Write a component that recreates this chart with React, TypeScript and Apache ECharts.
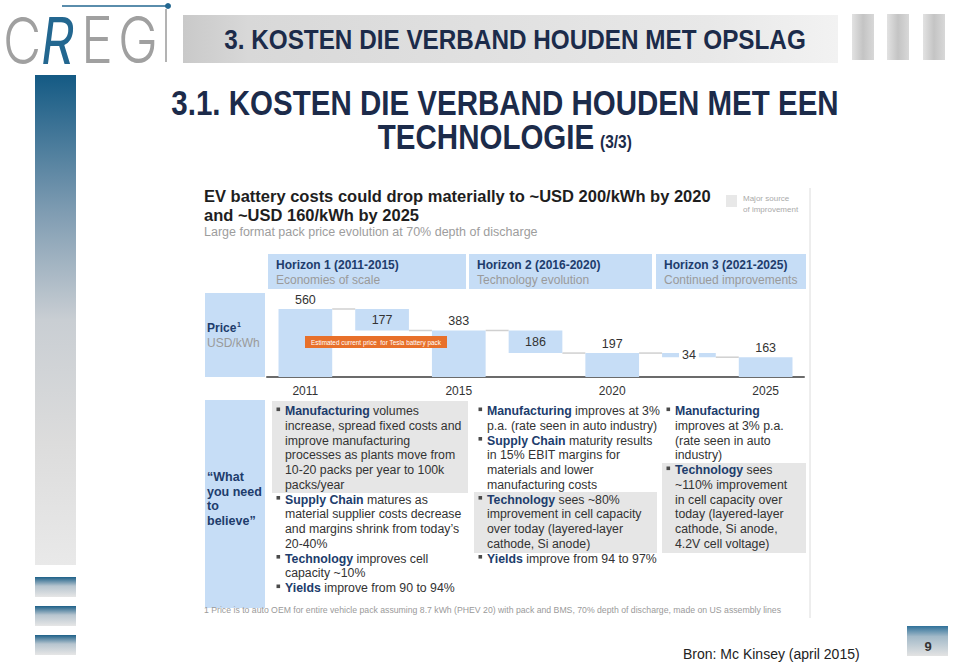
import React, { useEffect, useRef } from "react";
import * as echarts from "echarts";

const FF = '"Liberation Sans", Arial, Helvetica, sans-serif';

// Waterfall data (USD/kWh)
const categories = ["2011", "H1", "2015", "H2", "2020", "H3", "2025"];
const baseValues = [0, 383, 0, 197, 0, 163, 0];
const stepValues = [560, 177, 383, 186, 197, 34, 163];
const isTotal = [true, false, true, false, true, false, true];

const horizonTitles = ["Horizon 1 (2011-2015)", "Horizon 2 (2016-2020)", "Horizon 3 (2021-2025)"];
const horizonSubs = ["Economies of scale", "Technology evolution", "Continued improvements"];

const col1Lines = [
  "{k|Manufacturing} volumes",
  "increase, spread fixed costs and",
  "improve manufacturing",
  "processes as plants move from",
  "10-20 packs per year to 100k",
  "packs/year",
  "{k|Supply Chain} matures as",
  "material supplier costs decrease",
  "and margins shrink from today\u2019s",
  "20-40%",
  "{k|Technology} improves cell",
  "capacity ~10%",
  "{k|Yields} improve from 90 to 94%",
];
const col1Bullets = [0, 6, 10, 12];
const col2Lines = [
  "{k|Manufacturing} improves at 3%",
  "p.a. (rate seen in auto industry)",
  "{k|Supply Chain} maturity results",
  "in 15% EBIT margins for",
  "materials and lower",
  "manufacturing costs",
  "{k|Technology} sees ~80%",
  "improvement in cell capacity",
  "over today (layered-layer",
  "cathode, Si anode)",
  "{k|Yields} improve from 94 to 97%",
];
const col2Bullets = [0, 2, 6, 10];
const col3Lines = [
  "{k|Manufacturing}",
  "improves at 3% p.a.",
  "(rate seen in auto",
  "industry)",
  "{k|Technology} sees",
  "~110% improvement",
  "in cell capacity over",
  "today (layered-layer",
  "cathode, Si anode,",
  "4.2V cell voltage)",
];
const col3Bullets = [0, 4];

const NAVY = "#1c2b4a";
const KEY = "#203c6c";
const BLUE = "#c6ddf6";
const GRAYBOX = "#e6e6e6";

function txt(x: number, y: number, text: string, style: any, extra: any = {}) {
  return {
    type: "text",
    x,
    y,
    ...extra,
    style: {
      text,
      fontFamily: FF,
      align: "left",
      verticalAlign: "middle",
      textAlign: "left",
      textVerticalAlign: "middle",
      ...style,
    },
  };
}

function vgrad(stops: [number, string][]) {
  return { type: "linear", x: 0, y: 0, x2: 0, y2: 1, colorStops: stops.map(([offset, color]) => ({ offset, color })) };
}
function hgrad(stops: [number, string][]) {
  return { type: "linear", x: 0, y: 0, x2: 1, y2: 0, colorStops: stops.map(([offset, color]) => ({ offset, color })) };
}

const LH = 14.75;
const FIRST = 411;

function column(x: number, lines: string[], bullets: number[]) {
  const els: any[] = [];
  els.push({
    type: "text",
    x: x + 8,
    y: FIRST - LH / 2,
    style: {
      text: lines.join("\n"),
      fontFamily: FF,
      fontSize: 12.3,
      fill: "#333",
      lineHeight: LH,
      align: "left",
      verticalAlign: "top",
      textAlign: "left",
      textVerticalAlign: "top",
      rich: {
        k: { fontFamily: FF, fontSize: 12.3, fontWeight: "bold", fill: KEY, color: KEY, lineHeight: LH },
      },
    },
  });
  bullets.forEach((b) => {
    els.push({ type: "rect", shape: { x: x - 0.5, y: FIRST + b * LH - 3.5, width: 3.6, height: 3.6 }, style: { fill: "#4a4a4a" } });
  });
  return els;
}

function buildGraphic() {
  const els: any[] = [];
  // left decorative bars
  els.push({ type: "rect", shape: { x: 35, y: 75, width: 41, height: 490 }, style: { fill: vgrad([[0, "#145a84"], [0.28, "#7f9cb2"], [0.5, "#c9ced3"], [0.75, "#dcdcdc"], [1, "#e9e9e9"]]) } });
  [577, 606, 635].forEach((y) => {
    els.push({ type: "rect", shape: { x: 35, y, width: 41, height: 20 }, style: { fill: vgrad([[0, "#1d6088"], [0.45, "#b7c5cf"], [1, "#e6e6e6"]]) } });
  });
  // logo
  const LOGO = "Inter, " + FF;
  els.push(txt(3, 40, "C", { fontFamily: LOGO, fontWeight: 300, fontSize: 64, fill: "#a0a0a0" }, { scaleX: 0.82 }));
  els.push(txt(41, 41, "R", { fontFamily: LOGO, fontWeight: 400, fontStyle: "italic", fontSize: 64, fill: "#236790" }, { scaleX: 0.8 }));
  els.push(txt(81, 40, "E", { fontFamily: LOGO, fontWeight: 300, fontSize: 64, fill: "#a0a0a0" }, { scaleX: 0.84 }));
  els.push(txt(118, 40, "G", { fontFamily: LOGO, fontWeight: 300, fontSize: 64, fill: "#a0a0a0" }, { scaleX: 0.84 }));
  els.push({ type: "line", shape: { x1: 166, y1: 9, x2: 166, y2: 62 }, style: { stroke: "#9a9a9a", lineWidth: 1.5 } });
  els.push({ type: "line", shape: { x1: 62, y1: 6, x2: 167, y2: 6 }, style: { stroke: "#236790", lineWidth: 1.5 } });
  els.push({ type: "circle", shape: { cx: 168, cy: 6, r: 3 }, style: { fill: "#236790" } });
  // header band
  els.push({ type: "rect", shape: { x: 183, y: 15, width: 655, height: 48 }, style: { fill: hgrad([[0, "#c9c9c9"], [0.1, "#d8d8d8"], [0.8, "#e8e8e8"], [1, "#f2f2f2"]]) } });
  [852, 887, 923].forEach((x) => {
    els.push({ type: "rect", shape: { x, y: 14, width: 22, height: 46 }, style: { fill: hgrad([[0, "#e2e2e2"], [0.5, "#c4c4c4"], [1, "#d8d8d8"]]) } });
  });
  els.push(txt(515, 40, "3. KOSTEN DIE VERBAND HOUDEN MET OPSLAG", { fontSize: 27, fontWeight: "bold", fill: NAVY, align: "center", textAlign: "center" }, { scaleX: 0.9 }));
  // slide title
  els.push(txt(505, 102, "3.1. KOSTEN DIE VERBAND HOUDEN MET EEN", { fontSize: 36, fontWeight: "bold", fill: NAVY, align: "center", textAlign: "center" }, { scaleX: 0.82 }));
  els.push(txt(486, 136, "TECHNOLOGIE", { fontSize: 36, fontWeight: "bold", fill: NAVY, align: "center", textAlign: "center" }, { scaleX: 0.82 }));
  els.push(txt(600, 142, "(3/3)", { fontSize: 18, fontWeight: "bold", fill: NAVY }, { scaleX: 0.86 }));

  // McKinsey exhibit
  els.push({ type: "line", shape: { x1: 810, y1: 188, x2: 810, y2: 618 }, style: { stroke: "#dcdcdc", lineWidth: 1 } });
  els.push(txt(204, 196, "EV battery costs could drop materially to ~USD 200/kWh by 2020", { fontSize: 16.5, fontWeight: "bold", fill: "#1e1e1e" }));
  els.push(txt(204, 215, "and ~USD 160/kWh by 2025", { fontSize: 16.5, fontWeight: "bold", fill: "#1e1e1e" }));
  els.push(txt(204, 232, "Large format pack price evolution at 70% depth of discharge", { fontSize: 12.5, fill: "#9d9d9d" }));
  els.push({ type: "rect", shape: { x: 726, y: 195, width: 11, height: 12 }, style: { fill: "#e8e8e8" } });
  els.push(txt(743, 198, "Major source", { fontSize: 8, fill: "#aaaaaa" }));
  els.push(txt(743, 209, "of improvement", { fontSize: 8, fill: "#aaaaaa" }));

  // horizons
  const hx = [268, 469, 656];
  const hw = [198, 183, 150];
  hx.forEach((x, i) => {
    els.push({ type: "rect", shape: { x, y: 254, width: hw[i], height: 35 }, style: { fill: BLUE } });
    els.push(txt(x + 8, 265, horizonTitles[i], { fontSize: 12, fontWeight: "bold", fill: KEY }));
    els.push(txt(x + 8, 280, horizonSubs[i], { fontSize: 12, fill: "#9a9a9a" }));
  });

  // row labels
  els.push({ type: "rect", shape: { x: 205, y: 293, width: 60, height: 84 }, style: { fill: BLUE } });
  els.push(txt(207, 328, "Price", { fontSize: 12, fontWeight: "bold", fill: KEY }));
  els.push(txt(237, 324, "1", { fontSize: 7, fontWeight: "bold", fill: KEY }));
  els.push(txt(207, 343, "USD/kWh", { fontSize: 12, fill: "#9a9a9a" }));
  els.push({ type: "rect", shape: { x: 205, y: 400, width: 60, height: 208 }, style: { fill: BLUE } });
  ["\u201CWhat", "you need", "to", "believe\u201D"].forEach((s, i) => {
    els.push(txt(207, 477 + i * 14.7, s, { fontSize: 12.5, fontWeight: "bold", fill: KEY }));
  });

  // highlighted "major source" boxes
  els.push({ type: "rect", shape: { x: 272, y: 401, width: 196, height: 92 }, style: { fill: GRAYBOX } });
  els.push({ type: "rect", shape: { x: 474, y: 492, width: 183, height: 61 }, style: { fill: GRAYBOX } });
  els.push({ type: "rect", shape: { x: 662, y: 463, width: 144, height: 90 }, style: { fill: GRAYBOX } });

  els.push(...column(277, col1Lines, col1Bullets));
  els.push(...column(479, col2Lines, col2Bullets));
  els.push(...column(667, col3Lines, col3Bullets));

  // Tesla annotation
  els.push({ type: "rect", z: 10, shape: { x: 305, y: 336, width: 142, height: 12 }, style: { fill: "#e8702a" } });
  els.push(txt(376, 342, "Estimated current price  for Tesla battery pack", { fontSize: 6.4, fill: "#ffffff", align: "center", textAlign: "center" }, { z: 11 }));

  // footnote and source
  els.push(txt(204, 610, "1 Price is to auto OEM for entire vehicle pack assuming 8.7 kWh (PHEV 20) with pack and BMS, 70% depth of discharge, made on US assembly lines", { fontSize: 8.7, fill: "#9a9a9a" }));
  els.push(txt(683, 654, "Bron: Mc Kinsey (april 2015)", { fontSize: 14, fill: "#222" }));
  els.push({ type: "rect", shape: { x: 907, y: 626, width: 41, height: 30 }, style: { fill: vgrad([[0, "#2f7199"], [0.35, "#a2b9c8"], [1, "#e3e3e3"]]) } });
  els.push(txt(928, 646, "9", { fontSize: 13, fontWeight: "bold", fill: "#333", align: "center", textAlign: "center" }));
  return els;
}

export default function App() {
  const ref = useRef<HTMLDivElement>(null);
  useEffect(() => {
    if (!ref.current) return;
    const chart = echarts.init(ref.current, null, { renderer: "svg" });
    const connectorData = categories.slice(0, -1).map((_, i) => [i, isTotal[i] ? baseValues[i] + stepValues[i] : baseValues[i]]);
    chart.setOption({
      animation: false,
      backgroundColor: "#ffffff",
      textStyle: { fontFamily: FF },
      grid: { left: 267, right: 156, top: 292, bottom: 287 },
      xAxis: {
        type: "category",
        data: categories,
        axisTick: { show: false },
        axisLine: { lineStyle: { color: "#6b6b6b", width: 2 } },
        axisLabel: {
          interval: (i: number) => isTotal[i],
          color: "#333",
          fontSize: 12,
          margin: 8,
          fontFamily: FF,
        },
      },
      yAxis: { type: "value", min: 0, max: 700, show: false, splitLine: { show: false } },
      series: [
        {
          type: "bar",
          stack: "w",
          barWidth: "70%",
          silent: true,
          itemStyle: { color: "transparent" },
          data: baseValues,
        },
        {
          type: "bar",
          stack: "w",
          barWidth: "70%",
          itemStyle: { color: BLUE },
          label: { show: true, color: "#333", fontSize: 12.5, fontFamily: FF },
          data: stepValues.map((v, i) => ({
            value: v,
            label: isTotal[i]
              ? { position: "top", distance: 3 }
              : v < 60
              ? { position: "inside", backgroundColor: "#ffffff", padding: [0, 3] }
              : { position: "inside" },
          })),
        },
        {
          type: "custom",
          silent: true,
          z: 1,
          data: connectorData,
          renderItem: (_p: any, api: any) => {
            const i = api.value(0);
            const lvl = api.value(1);
            const a = api.coord([i, lvl]);
            const b = api.coord([i + 1, lvl]);
            const half = api.size([1, 0])[0] * 0.35;
            return {
              type: "line",
              shape: { x1: a[0] + half, y1: a[1], x2: b[0] - half, y2: b[1] },
              style: { stroke: "#d0d0d0", lineWidth: 1.5 },
            };
          },
        },
      ],
      graphic: { elements: buildGraphic() },
    });
    return () => chart.dispose();
  }, []);
  return <div ref={ref} style={{ position: "fixed", left: 0, top: 0, width: 960, height: 664 }} />;
}
